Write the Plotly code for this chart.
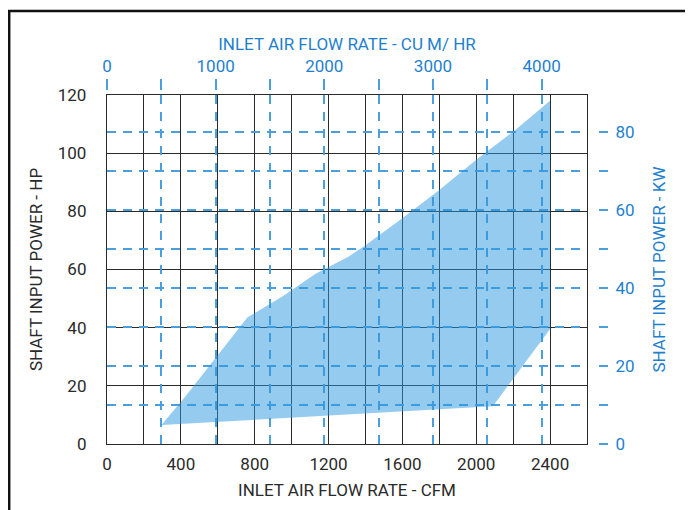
import plotly.graph_objects as go

# Data
cfm_ticks = [0, 400, 800, 1200, 1600, 2000, 2400]
hp_ticks = [0, 20, 40, 60, 80, 100, 120]
kw_ticks = [0, 10, 20, 30, 40, 50, 60, 70, 80]
kw_labels = ["0", "", "20", "", "40", "", "60", "", "80"]
m3h_ticks = [0, 500, 1000, 1500, 2000, 2500, 3000, 3500, 4000]
m3h_labels = ["0", "", "1000", "", "2000", "", "3000", "", "4000"]

# operating envelope (CFM, HP)
env_cfm = [295, 420, 600, 760, 950, 1130, 1310, 1400, 1600, 1800, 2000, 2200, 2400, 2400, 2090, 295]
env_hp = [6.5, 16, 30.5, 43.5, 50.7, 58.5, 64.5, 68.3, 77.6, 87.3, 97.7, 107.4, 118, 39.5, 13, 6.5]

CFM_MAX = 2600
HP_MAX = 120
CFM_TO_M3H = 1.699
HP_TO_KW = 0.7457

BLUE = "#1f7fcf"
GRID_BLUE = "#4a9fdc"
DARK = "#2a2a2a"
FONT = "Liberation Sans Narrow, Arial Narrow, Roboto, sans-serif"

fig = go.Figure()
fig.add_trace(go.Scatter(
    x=env_cfm, y=env_hp, mode="lines", fill="toself",
    fillcolor="rgba(45,151,225,0.5)", line=dict(width=0),
    hoverinfo="skip", showlegend=False,
))
# invisible traces to activate secondary axes
fig.add_trace(go.Scatter(x=[0], y=[0], xaxis="x2", yaxis="y", mode="markers",
                         marker=dict(opacity=0), showlegend=False, hoverinfo="skip"))
fig.add_trace(go.Scatter(x=[0], y=[0], xaxis="x", yaxis="y2", mode="markers",
                         marker=dict(opacity=0), showlegend=False, hoverinfo="skip"))

xdom = [0, 0.9776]
ydom = [0, 0.9859]

fig.update_layout(
    width=693, height=510,
    margin=dict(l=99, r=103, t=82, b=74),
    paper_bgcolor="white", plot_bgcolor="white",
    font=dict(family=FONT, size=17, color=DARK),
    showlegend=False,
    xaxis=dict(
        domain=xdom, range=[0, CFM_MAX], tickvals=cfm_ticks,
        showgrid=True, gridcolor=DARK, gridwidth=1.2,
        minor=dict(dtick=200, tick0=0, showgrid=True, gridcolor=DARK, gridwidth=1.2),
        showline=True, mirror=True, linecolor=DARK, linewidth=1.3,
        zeroline=False, ticks="", ticklabelstandoff=4,
        tickfont=dict(size=17, color=DARK),
        title=dict(text="INLET AIR FLOW RATE - CFM", standoff=11, font=dict(size=17, color=DARK)),
    ),
    yaxis=dict(
        domain=ydom, range=[0, HP_MAX], tickvals=hp_ticks,
        showgrid=True, gridcolor=DARK, gridwidth=1.2,
        showline=True, mirror=True, linecolor=DARK, linewidth=1.3,
        zeroline=False, ticks="", ticklabelstandoff=16,
        tickfont=dict(size=17, color=DARK),
        title=dict(text="SHAFT INPUT POWER - HP", standoff=10, font=dict(size=17, color=DARK)),
    ),
    xaxis2=dict(
        overlaying="x", side="top", anchor="free", position=1, domain=xdom,
        range=[0, CFM_MAX * CFM_TO_M3H], tickvals=m3h_ticks, ticktext=m3h_labels,
        showgrid=True, gridcolor=GRID_BLUE, gridwidth=1.8, griddash="9px,8px",
        ticks="outside", ticklen=11, tickwidth=1.8, tickcolor=GRID_BLUE,
        showline=False, zeroline=False, ticklabelstandoff=0,
        tickfont=dict(size=17, color=BLUE),
        title=dict(text="INLET AIR FLOW RATE - CU M/ HR", standoff=0, font=dict(size=17, color=BLUE)),
    ),
    yaxis2=dict(
        overlaying="y", side="right", anchor="free", position=1, domain=ydom,
        range=[0, HP_MAX * HP_TO_KW], tickvals=kw_ticks, ticktext=kw_labels,
        showgrid=True, gridcolor=GRID_BLUE, gridwidth=1.8, griddash="9px,7px",
        ticks="outside", ticklen=9, tickwidth=1.8, tickcolor=GRID_BLUE,
        showline=False, zeroline=False, ticklabelstandoff=4,
        tickfont=dict(size=17, color=BLUE),
        title=dict(text="SHAFT INPUT POWER - KW", standoff=19, font=dict(size=17, color=BLUE)),
    ),
    shapes=[dict(type="rect", xref="paper", yref="paper",
                 x0=-0.1992, x1=1.1833, y0=-0.3, y1=1.2232,
                 line=dict(color="#111", width=2.5), fillcolor="rgba(0,0,0,0)", layer="above")],
)

fig.write_html("out.html")
